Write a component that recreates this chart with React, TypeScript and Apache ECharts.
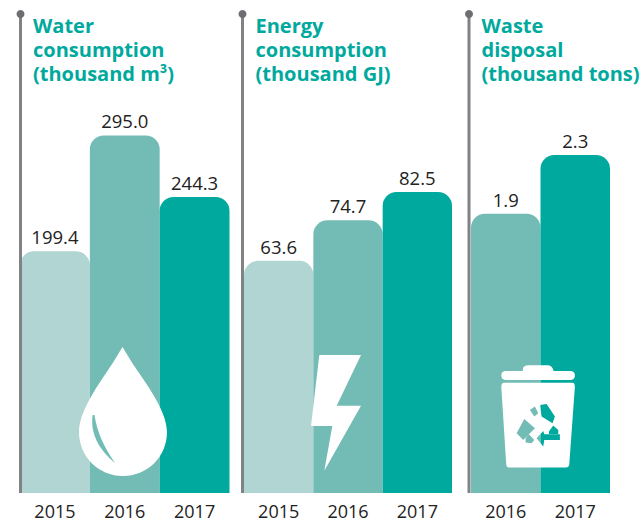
import React, { useEffect, useRef } from "react";
import * as echarts from "echarts";

const waterYears = ["2015", "2016", "2017"];
const waterValues = [199.4, 295.0, 244.3];
const energyYears = ["2015", "2016", "2017"];
const energyValues = [63.6, 74.7, 82.5];
const wasteYears = ["2016", "2017"];
const wasteValues = [1.9, 2.3];

const yearColors: Record<string, string> = { "2015": "#B0D5D2", "2016": "#73BCB5", "2017": "#00A99D" };
const TEAL = "#00A99D";
const GREY = "#808285";
const INK = "#222222";
const FONT = "'Open Sans', 'Noto Sans', sans-serif";
const BASE = 493;
const TOP = 93;

const dropPath =
  "M122.5 347 L131 361 C140 376 167 408 167 432 C167 457 147 476 123 476 C99 476 79 457 79 432 C79 408 105 376 114 361 Z " +
  "M92.7 415 C90 432 98 449 115 463 C104 447 97 432 94.5 415 Z";
const boltPath = "M319.3 355 L361 355 L336.7 405.7 L361 405.7 L324.3 470.7 L332.3 426 L311 426 Z";
const binPath =
  "M190 52 Q195 46 205 46 L265 46 Q278 48 281 63 L335 63 Q345 66 345 76 Q345 88 335 90 L135 90 Q124 88 124 76 Q124 65 135 63 L188 63 Z " +
  "M130 98 L340 98 Q345 100 345 110 L328 345 Q326 353 318 353 L150 353 Q141 353 139 345 L124 110 Q124 100 130 98 Z " +
  "M240 165 L245 200 L278 220 L285 200 L260 162 Z " +
  "M210 180 L223 200 L235 190 L225 170 Z " +
  "M170 250 L190 270 L225 235 L193 207 Z " +
  "M197 265 L197 278 L215 280 L223 270 L207 253 Z " +
  "M230 265 L250 290 L253 270 L300 270 L300 253 L253 253 L250 243 Z " +
  "M267 245 L267 252 L295 252 L295 240 L280 227 Z";

echarts.graphic.registerShape("dropIcon", echarts.graphic.extendPath(dropPath, {}));
echarts.graphic.registerShape("boltIcon", echarts.graphic.extendPath(boltPath, {}));
echarts.graphic.registerShape("binIcon", echarts.graphic.extendPath(binPath, {}));

const panels = [
  { years: waterYears, values: waterValues, left: 20, width: 209.5, max: 400 / 1.212, digits: 1 },
  { years: energyYears, values: energyValues, left: 244, width: 208, max: 400 / 3.65, digits: 1 },
  { years: wasteYears, values: wasteValues, left: 471, width: 139, max: 400 / 147, digits: 1 },
];

const pole = (x: number) => [
  { type: "rect", shape: { x: x - 1.5, y: 14, width: 3, height: BASE - 14 }, style: { fill: GREY }, z: 5 },
  { type: "circle", shape: { cx: x, cy: 14, r: 4 }, style: { fill: "#6D6E71" }, z: 5 },
];

export default function App() {
  const ref = useRef<HTMLDivElement>(null);
  useEffect(() => {
    document.body.style.margin = "0";
    const chart = echarts.init(ref.current!, undefined, { renderer: "svg" });
    chart.setOption({
      animation: false,
      backgroundColor: "#FFFFFF",
      title: [
        ["Water\nconsumption\n(thousand m³)", 33],
        ["Energy\nconsumption\n(thousand GJ)", 255.5],
        ["Waste\ndisposal\n(thousand tons)", 481.5],
      ].map(([text, left]) => ({
        text,
        left,
        top: 13,
        padding: 0,
        textStyle: { color: TEAL, fontFamily: FONT, fontSize: 20, fontWeight: 700, lineHeight: 24 },
      })),
      grid: panels.map((p) => ({ left: p.left, width: p.width, top: TOP, height: BASE - TOP })),
      xAxis: panels.map((p, i) => ({
        type: "category",
        gridIndex: i,
        data: p.years,
        axisLine: { show: false },
        axisTick: { show: false },
        axisLabel: { color: INK, fontFamily: FONT, fontSize: 18, lineHeight: 20, margin: 8 },
      })),
      yAxis: panels.map((p, i) => ({
        type: "value",
        gridIndex: i,
        min: 0,
        max: p.max,
        show: false,
        splitLine: { show: false },
      })),
      series: panels.map((p, i) => ({
        type: "bar",
        xAxisIndex: i,
        yAxisIndex: i,
        barWidth: "100%",
        data: p.values.map((v, k) => ({
          value: v,
          itemStyle: { color: yearColors[p.years[k]], borderRadius: [14, 14, 0, 0] },
        })),
        label: {
          show: true,
          position: "top",
          distance: 5,
          color: INK,
          fontFamily: FONT,
          fontSize: 18.5,
          formatter: (d: any) => Number(d.value).toFixed(p.digits),
        },
      })),
      graphic: [
        ...pole(20.5),
        ...pole(242.5),
        ...pole(469),
        { type: "dropIcon", x: 0, y: 0, style: { fill: "#FFFFFF" }, z: 6 },
        { type: "boltIcon", x: 0, y: 0, style: { fill: "#FFFFFF" }, z: 6 },
        { type: "binIcon", x: 460, y: 350, scaleX: 1 / 3, scaleY: 1 / 3, style: { fill: "#FFFFFF" }, z: 6 },
      ],
    });
    return () => chart.dispose();
  }, []);
  return <div ref={ref} style={{ width: 644, height: 522 }} />;
}
